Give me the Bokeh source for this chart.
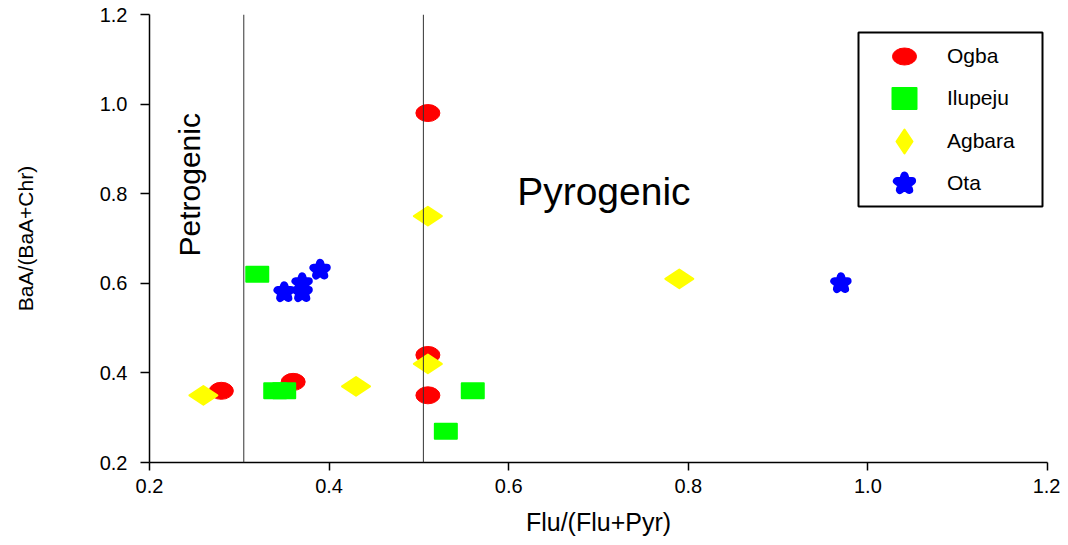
import math
from bokeh.plotting import figure
from bokeh.models import (Range1d, Span, Label, Legend, LegendItem, BoxAnnotation,
                          FixedTicker, PrintfTickFormatter)
from bokeh.embed import file_html
from bokeh.resources import INLINE

# ---- data ----
ogba_x = [0.51, 0.51, 0.51, 0.28, 0.36]
ogba_y = [0.98, 0.44, 0.35, 0.36, 0.38]
ilupeju_x = [0.32, 0.34, 0.35, 0.56, 0.53]
ilupeju_y = [0.62, 0.36, 0.36, 0.36, 0.27]
agbara_x = [0.26, 0.43, 0.51, 0.51, 0.79]
agbara_y = [0.35, 0.37, 0.75, 0.42, 0.61]
ota_x = [0.35, 0.37, 0.37, 0.39, 0.97]
ota_y = [0.58, 0.58, 0.60, 0.63, 0.60]
x_ticks = [0.2, 0.4, 0.6, 0.8, 1.0, 1.2]
y_ticks = [0.2, 0.4, 0.6, 0.8, 1.0, 1.2]
boundaries = [0.305, 0.505]
series_names = ["Ogba", "Ilupeju", "Agbara", "Ota"]

FONT = "Liberation Sans"
FL, FT = 149, 14          # frame left / top on the canvas

p = figure(width=1060, height=544, x_range=Range1d(0.2, 1.2), y_range=Range1d(0.2, 1.2),
           output_backend="svg", toolbar_location=None,
           min_border_left=FL, min_border_right=13, min_border_top=FT, min_border_bottom=82)
p.outline_line_color = None
p.grid.visible = False
p.background_fill_color = "white"

# boundary lines
for b in boundaries:
    p.add_layout(Span(location=b, dimension="height", line_color="#333333", line_width=1))

r_ogba = p.ellipse(x=ogba_x, y=ogba_y, width=24, height=17, width_units="screen",
                   height_units="screen", fill_color="red", line_color="red")
r_ilu = p.rect(x=ilupeju_x, y=ilupeju_y, width=22, height=15, width_units="screen",
               height_units="screen", fill_color="#00ff00", line_color="#00ff00",
               line_width=2, line_join="round")
r_agb = p.scatter(x=agbara_x, y=agbara_y, marker="diamond", size=28, angle=math.pi / 2,
                  fill_color="yellow", line_color="yellow", line_width=2, line_join="round")
r_ota = p.scatter(x=ota_x, y=ota_y, marker="star", size=14, fill_color="blue",
                  line_color="blue", line_width=8, line_join="round")

# region labels
p.add_layout(Label(x=0.706, y=0.805, text="Pyrogenic", text_align="center",
                   text_baseline="alphabetic", text_font=FONT, text_font_size="39px",
                   text_color="black"))
p.add_layout(Label(x=0.2446, y=0.82, text="Petrogenic", angle=math.pi / 2,
                   text_align="center", text_baseline="middle", text_font=FONT,
                   text_font_size="30px", text_color="black"))

# legend frame (screen units, relative to the plot frame)
p.add_layout(BoxAnnotation(left=709, right=893, top=430, bottom=256,
                           left_units="screen", right_units="screen",
                           top_units="screen", bottom_units="screen",
                           fill_alpha=0, line_color="black", line_alpha=1, line_width=2))

def add_leg(renderer, label, gw, gh, center_y):
    # center_y: row centre, in px below the frame top
    leg = Legend(items=[LegendItem(label=label, renderers=[renderer])],
                 location=(755 - gw / 2, 448 - center_y - gh / 2),
                 glyph_width=gw, glyph_height=gh, label_height=gh,
                 label_standoff=int(43 - gw / 2), padding=0, margin=0, spacing=0,
                 border_line_alpha=0, background_fill_alpha=0,
                 label_text_font=FONT, label_text_font_size="21px",
                 label_text_color="black")
    p.add_layout(leg)

add_leg(r_ogba, series_names[0], 30, 30, 42)
add_leg(r_ilu, series_names[1], 30, 26, 84)
add_leg(r_agb, series_names[2], 60, 60, 127)
add_leg(r_ota, series_names[3], 40, 40, 169)

# axes
for ax in (p.xaxis[0], p.yaxis[0]):
    ax.axis_line_color = "black"
    ax.axis_line_width = 1.5
    ax.major_tick_line_color = "black"
    ax.major_tick_line_width = 1.5
    ax.major_tick_in = 0
    ax.minor_tick_line_color = None
    ax.major_label_text_font = FONT
    ax.major_label_text_font_size = "20px"
    ax.major_label_text_color = "black"
    ax.axis_label_text_font = FONT
    ax.axis_label_text_font_style = "normal"
    ax.axis_label_text_color = "black"
    ax.formatter = PrintfTickFormatter(format="%.1f")

p.xaxis[0].ticker = FixedTicker(ticks=x_ticks)
p.yaxis[0].ticker = FixedTicker(ticks=y_ticks)
p.xaxis[0].major_tick_out = 8
p.xaxis[0].major_label_standoff = 8
p.xaxis[0].axis_label = "Flu/(Flu+Pyr)"
p.xaxis[0].axis_label_text_font_size = "25px"
p.xaxis[0].axis_label_standoff = 12
p.yaxis[0].major_tick_out = 9
p.yaxis[0].major_label_standoff = 13
p.yaxis[0].axis_label = "BaA/(BaA+Chr)"
p.yaxis[0].axis_label_text_font_size = "21px"
p.yaxis[0].axis_label_standoff = 60

open("out.html", "w").write(file_html(p, INLINE))
